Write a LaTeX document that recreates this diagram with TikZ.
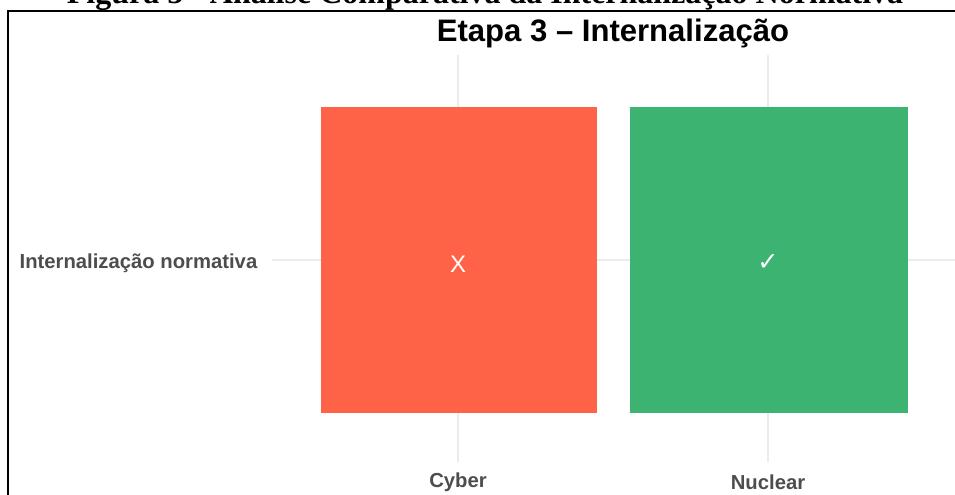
\documentclass[tikz,border=0pt]{standalone}
\usepackage{fontspec}
\setmainfont{Liberation Sans}
\newfontfamily\capfont{Liberation Serif}
\newfontfamily\symfont{DejaVu Sans}
\definecolor{tomatoc}{HTML}{FF6347}
\definecolor{seagreen}{HTML}{3CB371}
\definecolor{gridc}{HTML}{EBEBEB}
\definecolor{labc}{HTML}{4D4D4D}
\begin{document}
\begin{tikzpicture}[x=0.75pt,y=-0.75pt,
  gridline/.style={draw=gridc,line width=1.1pt},
  bar/.style={draw=none,minimum width=#1*0.75pt,minimum height=230pt,inner sep=0},
  axlab/.style={text=labc,font=\bfseries\fontsize{15.2}{17}\selectfont},
  symbmark/.style={text=white,font=\symfont\fontsize{19}{21}\selectfont}]
\useasboundingbox (0,0) rectangle (955,495);
\clip (0,0) rectangle (955,495);
% caption (cut at top)
\node[font=\capfont\bfseries\fontsize{24}{26}\selectfont,anchor=base,inner sep=0] (cap) at (485,4) {Figura 5 - Análise Comparativa da Internalização Normativa};
% frame
\draw[line width=1.5pt] (8,500) -- (8,11) -- (960,11);
% grid
\draw[gridline] (458,55) -- (458,462);
\draw[gridline] (768,55) -- (768,462);
\draw[gridline] (272,260) -- (955,260);
% bars
\node[bar=276,fill=tomatoc] (cyber) at (459,260) {};
\node[bar=278,fill=seagreen] (nuclear) at (769,260) {};
\node[text=white,font=\fontsize{18}{20}\selectfont] (x) at (458,264) {X};
\node[symbmark] (ok) at (768,263) {✓};
% title
\node[font=\bfseries\fontsize{23.3}{26}\selectfont] (title) at (613,33) {Etapa 3 – Internalização};
% labels
\node[axlab,anchor=east] (ylab) at (262,263) {Internalização normativa};
\node[axlab] (xc) at (458,482) {Cyber};
\node[axlab] (xn) at (768,482) {Nuclear};
\end{tikzpicture}
\end{document}
